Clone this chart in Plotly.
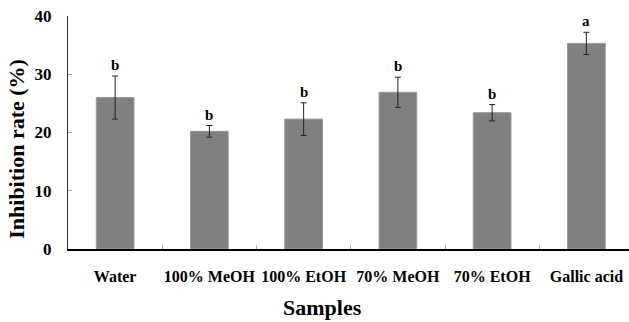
import plotly.graph_objects as go

categories = ["Water", "100% MeOH", "100% EtOH", "70% MeOH", "70% EtOH", "Gallic acid"]
values = [26.0, 20.2, 22.3, 26.9, 23.4, 35.3]
errors = [3.7, 1.0, 2.8, 2.6, 1.4, 1.9]
letters = ["b", "b", "b", "b", "b", "a"]
y_ticks = [0, 10, 20, 30, 40]

FONT = "Liberation Serif"

fig = go.Figure()
fig.add_trace(go.Bar(
    x=categories, y=values, width=0.4,
    marker=dict(color="#808080", line=dict(color="#9a9a9a", width=1)),
    error_y=dict(type="data", array=errors, visible=True, color="#222222",
                 thickness=1, width=3),
))

for c, v, e, l in zip(categories, values, errors, letters):
    fig.add_annotation(x=c, y=v + e, text=l, showarrow=False, yanchor="bottom",
                       yshift=1, font=dict(family=FONT, size=15, color="black", weight="bold"))

fig.add_annotation(xref="paper", yref="paper", x=-0.091, y=0.43, text="Inhibition rate (%)",
                   textangle=-90, showarrow=False, xanchor="center", yanchor="middle",
                   font=dict(family=FONT, size=22, color="black", weight="bold"))
fig.add_annotation(xref="paper", yref="paper", x=0.4545, y=-0.252, text="Samples",
                   showarrow=False, xanchor="center", yanchor="middle",
                   font=dict(family=FONT, size=22, color="black", weight="bold"))

fig.update_layout(
    width=629, height=322,
    margin=dict(l=68, r=0, t=16, b=73),
    plot_bgcolor="white", paper_bgcolor="white",
    showlegend=False,
    font=dict(family=FONT, color="black"),
)
fig.update_xaxes(
    type="category", range=[-0.5, 5.452], automargin=False, tickangle=0,
    showline=True, linecolor="black", linewidth=2,
    ticks="inside", tickson="boundaries", ticklen=4, tickcolor="#aaaaaa",
    tickfont=dict(family=FONT, size=16, color="black", weight="bold"),
    ticklabelstandoff=12, showgrid=False, zeroline=False,
)
fig.update_yaxes(
    range=[0, 40], tickvals=y_ticks, automargin=False,
    showline=True, linecolor="#333333", linewidth=1,
    ticks="inside", ticklen=4, tickcolor="#aaaaaa",
    tickfont=dict(family=FONT, size=17, color="black", weight="bold"),
    ticklabelstandoff=12, showgrid=False, zeroline=False,
)

fig.write_html("out.html")
